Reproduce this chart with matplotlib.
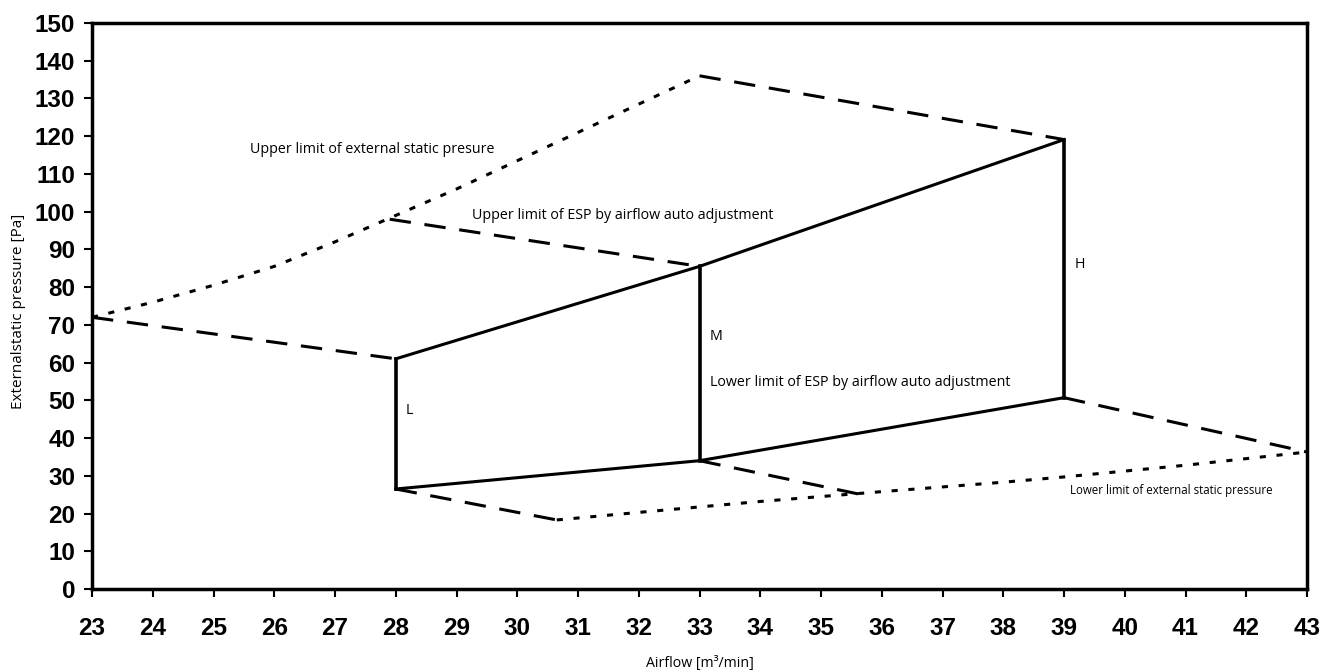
# %% IMPORTS
import matplotlib
matplotlib.use("Agg")
import matplotlib.pyplot as plt

# %% DATA
# Fan taps L / M / H and the auto-adjustment ESP window at each tap
tap_names = ["L", "M", "H"]
tap_airflow = [28, 33, 39]
tap_esp_top = [61.0, 85.5, 119.1]
tap_esp_bottom = [26.5, 34.0, 50.7]

# Upper limit of external static pressure (dotted)
upper_limit_airflow = [23, 24, 25, 26, 27, 28, 29, 30, 31, 32, 33]
upper_limit_esp = [72, 76, 80.5, 85.5, 92, 99, 106, 113.5, 121, 128.5, 136]

# Lower limit of external static pressure (dotted)
lower_limit_airflow = [30.65, 32, 34, 36, 38, 39, 41, 43]
lower_limit_esp = [18.3, 20.3, 23.2, 25.8, 28.3, 29.7, 32.8, 36.3]

# Dashed connectors between the limits (start/end pairs)
dash_x0 = [23, 27.9, 33, 39, 28, 33]
dash_y0 = [72, 98, 136, 50.7, 26.5, 34]
dash_x1 = [28, 33, 39, 43, 30.65, 35.7]
dash_y1 = [61, 85.5, 119.1, 36.3, 18.3, 24.9]

x_ticks = list(range(23, 44))
y_ticks = list(range(0, 151, 10))

# %% PLOT
fig = plt.figure(figsize=(13.26, 6.70), dpi=100)
ax = fig.add_axes([0.0694, 0.1209, 0.9163, 0.8448])

lw = 2.2
ax.plot(upper_limit_airflow, upper_limit_esp, color="black", lw=lw,
        linestyle=(0, (2, 3.5)))
ax.plot(lower_limit_airflow, lower_limit_esp, color="black", lw=lw,
        linestyle=(0, (2, 3.5)))
for x0, y0, x1, y1 in zip(dash_x0, dash_y0, dash_x1, dash_y1):
    ax.plot([x0, x1], [y0, y1], color="black", lw=lw,
            linestyle=(0, (7, 4.5)))

# Solid auto adjustment window
ax.plot(tap_airflow, tap_esp_top, color="black", lw=lw)
ax.plot(tap_airflow, tap_esp_bottom, color="black", lw=lw)
for x, top, bottom in zip(tap_airflow, tap_esp_top, tap_esp_bottom):
    ax.plot([x, x], [bottom, top], color="black", lw=2.6)

# Annotations
note_font = dict(family="Open Sans", fontsize=10.3, color="black")
label_y = [47.2, 67, 86]
for name, x, y in zip(tap_names, tap_airflow, label_y):
    ax.text(x + 0.17, y, name, va="center", ha="left", **note_font)
ax.text(25.6, 116.4, "Upper limit of external static presure",
        va="center", ha="left", **note_font)
ax.text(29.25, 99, "Upper limit of ESP by airflow auto adjustment",
        va="center", ha="left", **note_font)
ax.text(33.17, 54.6, "Lower limit of ESP by airflow auto adjustment",
        va="center", ha="left", **note_font)
ax.text(39.1, 26, "Lower limit of external static pressure",
        va="center", ha="left", family="Open Sans", fontsize=8.3, color="black")

# Axes
ax.set_xlim(23, 43)
ax.set_ylim(0, 150)
ax.set_xticks(x_ticks)
ax.set_yticks(y_ticks)
ax.tick_params(direction="out", length=6, width=1.5, color="black")
ax.tick_params(axis="x", pad=14)
ax.tick_params(axis="y", pad=6)
for lab in ax.get_xticklabels() + ax.get_yticklabels():
    lab.set_family("Liberation Sans")
    lab.set_fontweight("bold")
    lab.set_fontsize(17.5)
for side in ["left", "right", "top", "bottom"]:
    ax.spines[side].set_linewidth(2.5)

fig.text(0.528, 0.0104, "Airflow [m³/min]", ha="center", va="center",
         family="Open Sans", fontsize=10.2)
fig.text(0.0143, 0.536, "Externalstatic pressure [Pa]", ha="center",
         va="center", rotation=90, family="Open Sans", fontsize=11)

fig.savefig("out.png", dpi=100)
